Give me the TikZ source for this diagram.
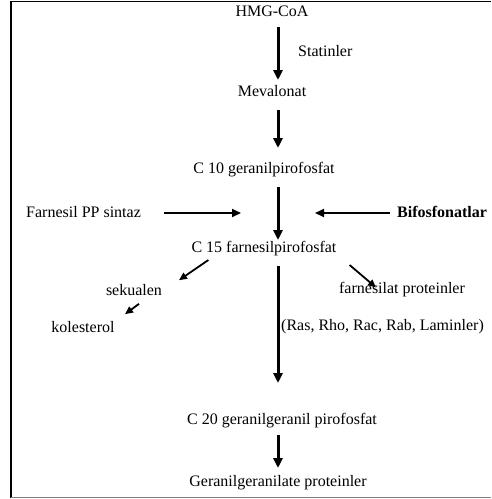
\documentclass[tikz,border=0pt]{standalone}
\usepackage{fontspec}
\setmainfont{Liberation Serif}
\usetikzlibrary{arrows.meta,positioning}
\tikzset{every picture/.style={line cap=butt, line join=miter}}
\tikzset{txt/.style={inner sep=0pt, font=\fontsize{16}{19}\selectfont}}
\tikzset{arrow/.style={-{Triangle[width=9pt,length=10pt]}, line width=3pt}}
\tikzset{sidearrow/.style={-{Triangle[width=8pt,length=9pt]}, line width=2pt}}
\tikzset{diag/.style={-{Triangle[width=7pt,length=8pt]}, line width=1.8pt}}

\begin{document}
\begin{tikzpicture}[x=1pt,y=-1pt]
  \useasboundingbox (0,0) rectangle (491,499);
  % frame
  \draw[line width=1.3pt] (491,1.5) -- (11,1.5) -- (11,497.5);
  \draw[gray, line width=1.3pt] (11,497.5) -- (491,497.5);
  \coordinate (spine) at (278,0);

  % main chain
  \node[txt] (hmg) at (272,11) {HMG-CoA};
  \node[txt, anchor=west] (statin) at (298,51) {Statinler};
  \node[txt] (meva) at (272,91) {Mevalonat};
  \node[txt] (c10) at (264,170) {C 10 geranilpirofosfat};
  \node[txt] (c15) at (264,249) {C 15 farnesilpirofosfat};
  \node[txt] (c20) at (282,421) {C 20 geranilgeranil pirofosfat};
  \node[txt] (ggprot) at (278,483) {Geranilgeranilate proteinler};

  % side inputs
  \node[txt, anchor=west] (fpps) at (26,212) {Farnesil PP sintaz};
  \node[txt, anchor=west, font=\fontsize{16}{19}\selectfont\bfseries] (bifos) at (397,212) {Bifosfonatlar};

  % branches
  \node[txt] (sekualen) at (134,290) {sekualen};
  \node[txt] (kolesterol) at (83,327) {kolesterol};
  \node[txt] (farnesilat) at (402,290) {farnesilat proteinler};
  \node[txt, anchor=west] (ras) at (281,327) {(Ras, Rho, Rac, Rab, Laminler)};

  % vertical arrows
  \draw[arrow, shorten <=16pt, shorten >=11pt] (hmg -| spine) -- (meva -| spine);
  \draw[arrow, shorten <=19pt, shorten >=22pt] (meva -| spine) -- (c10 -| spine);
  \draw[arrow, shorten <=17pt, shorten >=9pt] (c10 -| spine) -- (c15 -| spine);
  \draw[arrow, shorten <=17pt, shorten >=38pt] (c15 -| spine) -- (c20 -| spine);
  \draw[arrow, shorten <=14pt, shorten >=15pt] (c20 -| spine) -- (ggprot -| spine);

  % horizontal arrows
  \draw[sidearrow, shorten <=23pt, shorten >=37pt] ([yshift=-1pt]fpps.east) -- ([yshift=-1pt]fpps.east -| spine);
  \draw[sidearrow, shorten <=7pt, shorten >=37pt] ([yshift=-1pt]bifos.west) -- ([yshift=-1pt]bifos.west -| spine);

  % diagonal arrows
  \draw[diag] ([shift={(17,11)}]c15.west) -- ([shift={(45,-4)}]sekualen.north);
  \draw[diag] ([shift={(5,8)}]sekualen.south) -- ([shift={(42,-7)}]kolesterol.north);
  \draw[diag] ([shift={(13,16)}]c15.east) -- ([shift={(-26,5)}]farnesilat.north);
\end{tikzpicture}
\end{document}
